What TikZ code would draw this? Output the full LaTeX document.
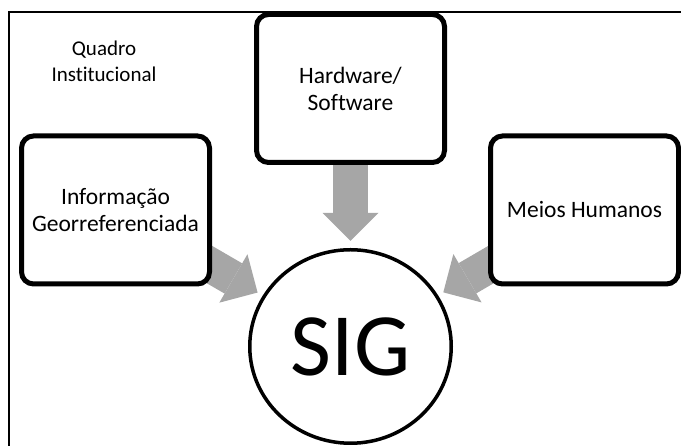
\documentclass[tikz,border=0pt]{standalone}
\usepackage{fontspec}
\setmainfont{Carlito}[Ligatures=NoCommon]
\usepackage{tikz}
\usetikzlibrary{arrows.meta, shapes.geometric, backgrounds}

\definecolor{arrowgray}{HTML}{A6A6A6}

\tikzset{
	part/.style={draw, line width=5pt, rounded corners=12pt, fill=white, minimum width=188pt, minimum height=148pt, align=center, font=\fontsize{23.5}{27}\selectfont},
	bigarrow/.style={draw=arrowgray, line width=35pt, -{Triangle[width=56pt, length=28pt, line width=0pt]}}
}

\begin{document}
\begin{tikzpicture}[x=1pt, y=1pt]
			\useasboundingbox (0,0) rectangle (681,446);
			\draw[line width=1.5pt] (9,0) -- (9,434) -- (681,434);
			\node[align=center, font=\fontsize{21}{26}\selectfont] (quadro) at (104,385) {Quadro\\Institucional};
			\node[part] (hw) at (350.5,357.5) {Hardware/\\Software};
			\node[part] (info) at (115.5,236) {Informação\\Georreferenciada};
			\node[part] (mh) at (584.5,236) {Meios Humanos};
			\node[draw, ellipse, line width=3.5pt, minimum width=201.5pt, minimum height=193.5pt, inner sep=0pt, font=\fontsize{89}{89}\selectfont] (sig) at (350.5,99.5) {SIG};
			\begin{scope}[on background layer]
				\draw[bigarrow, shorten >=7pt] (hw.center) -- (sig);
				\draw[bigarrow, shorten >=6pt] (info.center) -- (sig);
				\draw[bigarrow, shorten >=6pt] (mh.center) -- (sig);
			\end{scope}
		\end{tikzpicture}
\end{document}
